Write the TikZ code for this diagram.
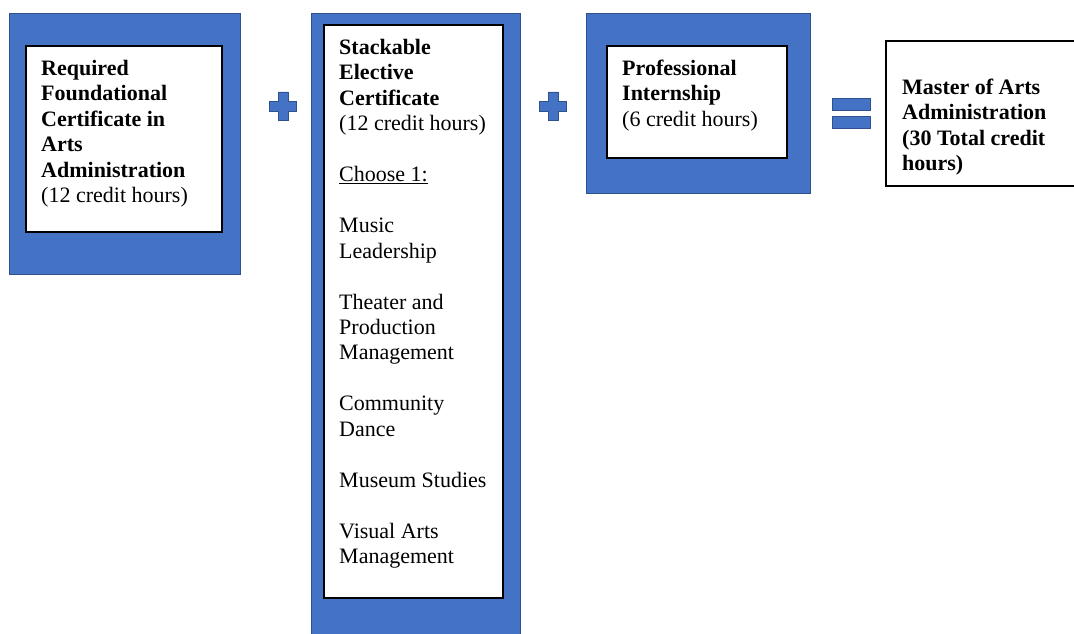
\documentclass[tikz,border=0pt]{standalone}
\usepackage{fontspec}
\setmainfont{Liberation Serif}
\usetikzlibrary{positioning}
\definecolor{certblue}{RGB}{68,114,196}
\definecolor{certedge}{RGB}{47,82,143}

\begin{document}
\begin{tikzpicture}[x=1pt,y=-1pt]
  \tikzstyle{frame}=[draw=certedge,line width=0.8pt,fill=certblue,inner sep=0pt]
  \tikzstyle{card}=[draw=black,line width=1.8pt,fill=white,inner sep=0pt]
  \tikzstyle{txt}=[anchor=north west,inner sep=0pt,align=left,text=black,
    font=\fontsize{22}{25.45}\selectfont]
  \tikzstyle{sym}=[draw=certedge,line width=0.8pt,fill=certblue]

  \clip (0,0) rectangle (1074,634);

  \node[frame,minimum width=231pt,minimum height=261pt] (found) at (124.5,143.5) {};
  \node[card,minimum width=196pt,minimum height=186pt] (foundin) at (124,139) {};
  \node[txt] (foundtxt) at (41,57.2)
    {\strut\textbf{Required}\\ \textbf{Foundational}\\ \textbf{Certificate in}\\
     \textbf{Arts}\\ \textbf{Administration}\\ (12 credit hours)};

  \node[frame,minimum width=209pt,minimum height=623pt] (elect) at (415.5,324.5) {};
  \node[card,minimum width=179pt,minimum height=573pt] (electin) at (413.5,311.5) {};
  \node[txt] (electtxt) at (339,36.5)
    {\strut\textbf{Stackable}\\ \textbf{Elective}\\ \textbf{Certificate}\\ (12 credit hours)\\[25.45pt]
     \underline{Choose 1:}\\[25.45pt]
     Music\\ Leadership\\[25.45pt]
     Theater and\\ Production\\ Management\\[25.45pt]
     Community\\ Dance\\[25.45pt]
     Museum Studies\\[25.45pt]
     Visual Arts\\ Management};

  \node[frame,minimum width=224pt,minimum height=180pt] (intern) at (698,103) {};
  \node[card,minimum width=180pt,minimum height=112pt] (internin) at (697,102) {};
  \node[txt] (interntxt) at (622,57.2)
    {\strut\textbf{Professional}\\ \textbf{Internship}\\ (6 credit hours)};

  \node[card,line width=1.4pt,minimum width=192pt,minimum height=145pt] (master) at (982,113.5) {};
  \node[txt] (mastertxt) at (902,76.2)
    {\strut\textbf{Master of Arts}\\ \textbf{Administration}\\ \textbf{(30 Total credit}\\ \textbf{hours)}};

  % plus and equals signs
  \foreach \cx in {283,553}
    \filldraw[sym] (\cx-13.5,101) -- (\cx-5,101) -- (\cx-5,92) -- (\cx+5,92) -- (\cx+5,101)
      -- (\cx+13.5,101) -- (\cx+13.5,111) -- (\cx+5,111) -- (\cx+5,120) -- (\cx-5,120)
      -- (\cx-5,111) -- (\cx-13.5,111) -- cycle;
  \filldraw[sym] (832,98) rectangle (870,110);
  \filldraw[sym] (832,116) rectangle (870,128);
\end{tikzpicture}
\end{document}
